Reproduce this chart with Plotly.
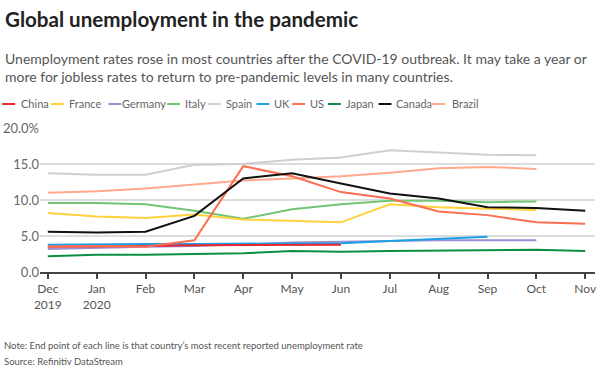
import plotly.graph_objects as go

months = ["Dec<br>2019", "Jan<br>2020", "Feb", "Mar", "Apr", "May", "Jun",
          "Jul", "Aug", "Sep", "Oct", "Nov"]

china = [3.5, 3.5, 3.6, 3.7, 3.7, 3.8, 3.8]
france = [8.2, 7.7, 7.5, 8.0, 7.3, 7.1, 6.9, 9.4, 9.0, 8.8, 8.6]
germany = [3.2, 3.4, 3.5, 3.6, 3.9, 4.1, 4.2, 4.35, 4.4, 4.4, 4.4]
italy = [9.6, 9.6, 9.4, 8.5, 7.4, 8.7, 9.4, 9.9, 9.9, 9.7, 9.8]
spain = [13.7, 13.5, 13.5, 14.9, 15.0, 15.6, 15.9, 16.9, 16.6, 16.3, 16.2]
uk = [3.8, 3.9, 3.9, 3.9, 3.9, 3.9, 4.0, 4.3, 4.6, 4.9]
us = [3.5, 3.6, 3.5, 4.4, 14.7, 13.3, 11.1, 10.2, 8.4, 7.9, 6.9, 6.7]
japan = [2.2, 2.4, 2.4, 2.5, 2.6, 2.9, 2.8, 2.9, 3.0, 3.0, 3.1, 2.9]
canada = [5.6, 5.5, 5.6, 7.8, 13.0, 13.7, 12.3, 10.9, 10.2, 9.0, 8.9, 8.5]
brazil = [11.0, 11.2, 11.6, 12.2, 12.7, 13.0, 13.3, 13.8, 14.4, 14.6, 14.3]

ytick_vals = [0, 5, 10, 15, 20]
ytick_text = ["0.0", "5.0", "10.0", "15.0", "20.0%"]

series = [
    ("China", china, "#e8262d"),
    ("France", france, "#ffd13a"),
    ("Germany", germany, "#9d8fd3"),
    ("Italy", italy, "#74c476"),
    ("Spain", spain, "#cfcfcf"),
    ("UK", uk, "#1da1e6"),
    ("US", us, "#fb6e52"),
    ("Japan", japan, "#0b8f45"),
    ("Canada", canada, "#111111"),
    ("Brazil", brazil, "#ffa98e"),
]

draw_order = ["Spain", "Brazil", "Italy", "France", "Germany", "UK", "China", "Japan", "US", "Canada"]
lookup = {n: (v, c) for n, v, c in series}

fig = go.Figure()
for name in draw_order:
    vals, col = lookup[name]
    fig.add_trace(go.Scatter(
        x=list(range(len(vals))), y=vals, mode="lines", name=name,
        line=dict(color=col, width=2), showlegend=False,
        hovertemplate=name + ": %{y:.1f}%<extra></extra>",
    ))

FONT = "Lato, 'Source Sans Pro', sans-serif"
L, R, T, B = 38, 3, 128, 101
W, H = 600, 373
pw = W - L - R
ph = H - T - B

def px2x(px):
    return (px - L) / pw

def py2y(py):
    return (H - B - py) / ph

annotations = []
shapes = []
legend_pos = [(0, 17), (49, 65), (107, 119), (166, 182), (207, 223),
              (256, 272), (292, 308), (328, 344), (379, 395), (433, 451)]
ly = 104
for (name, vals, col), (lx, tx) in zip(series, legend_pos):
    shapes.append(dict(type="line", xref="paper", yref="paper",
                       x0=px2x(lx), x1=px2x(lx + 13), y0=py2y(ly), y1=py2y(ly),
                       line=dict(color=col, width=2)))
    annotations.append(dict(text=name, xref="paper", yref="paper",
                            x=px2x(tx), y=py2y(ly), xanchor="left", yanchor="middle",
                            showarrow=False, font=dict(family=FONT, size=11, color="#666666")))

annotations.append(dict(text="<b>Global unemployment in the pandemic</b>", xref="paper", yref="paper",
                        x=px2x(1), y=py2y(19), xanchor="left", yanchor="middle", showarrow=False,
                        font=dict(family=FONT, size=20.6, color="#222222")))
annotations.append(dict(text="Unemployment rates rose in most countries after the COVID-19 outbreak. It may take a year or",
                        xref="paper", yref="paper", x=px2x(1), y=py2y(58), xanchor="left", yanchor="middle",
                        showarrow=False, font=dict(family=FONT, size=14, color="#555555")))
annotations.append(dict(text="more for jobless rates to return to pre-pandemic levels in many countries.",
                        xref="paper", yref="paper", x=px2x(1), y=py2y(76), xanchor="left", yanchor="middle",
                        showarrow=False, font=dict(family=FONT, size=14, color="#555555")))
annotations.append(dict(text="Note: End point of each line is that country\u2019s most recent reported unemployment rate",
                        xref="paper", yref="paper", x=px2x(0), y=py2y(345), xanchor="left", yanchor="middle",
                        showarrow=False, font=dict(family=FONT, size=9.5, color="#555555")))
annotations.append(dict(text="Source: Refinitiv DataStream",
                        xref="paper", yref="paper", x=px2x(0), y=py2y(361), xanchor="left", yanchor="middle",
                        showarrow=False, font=dict(family=FONT, size=9.5, color="#555555")))

fig.update_layout(
    width=W, height=H,
    margin=dict(l=L, r=R, t=T, b=B, pad=0),
    paper_bgcolor="white", plot_bgcolor="white",
    font=dict(family=FONT, color="#555555"),
    annotations=annotations, shapes=shapes,
    xaxis=dict(
        range=[-0.16, 11.2], tickmode="array", tickvals=list(range(12)), ticktext=months,
        showgrid=False, zeroline=False, showline=True, linecolor="#444444", linewidth=1.5,
        ticks="outside", ticklen=5, tickcolor="#444444", tickwidth=1.5,
        tickfont=dict(family=FONT, size=12, color="#555555"), fixedrange=True,
    ),
    yaxis=dict(
        range=[0, 20], tickmode="array", tickvals=ytick_vals, ticktext=ytick_text,
        showgrid=True, gridcolor="#dddddd", gridwidth=1.5, zeroline=False, showline=False,
        ticks="", tickfont=dict(family=FONT, size=13, color="#666666"), fixedrange=True,
    ),
)

fig.write_html("out.html", config={"displayModeBar": False},
               post_script="document.body.style.margin='0';document.body.style.overflow='hidden';")
